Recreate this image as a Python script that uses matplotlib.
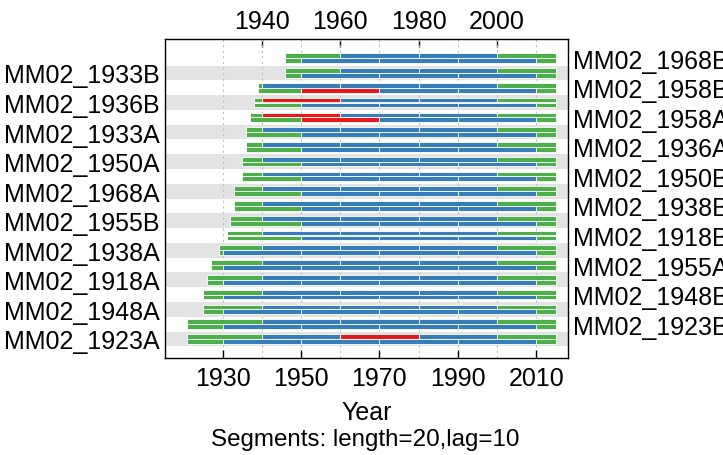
import matplotlib
matplotlib.use("Agg")
import matplotlib.pyplot as plt

plt.rcParams['font.family'] = ['Liberation Sans', 'DejaVu Sans']

# ---- data (bottom to top) ----
series = ["MM02_1923A", "MM02_1923B", "MM02_1948A", "MM02_1948B", "MM02_1918A",
          "MM02_1955A", "MM02_1938A", "MM02_1918B", "MM02_1955B", "MM02_1938B",
          "MM02_1968A", "MM02_1950B", "MM02_1950A", "MM02_1936A", "MM02_1933A",
          "MM02_1958A", "MM02_1936B", "MM02_1958B", "MM02_1933B", "MM02_1968B"]
first_year = [1921, 1921, 1925, 1925, 1926, 1927, 1929, 1931, 1932, 1933,
              1933, 1935, 1935, 1936, 1936, 1937, 1938, 1939, 1946, 1946]
last_year = [2015, 2015, 2015, 2015, 2015, 2015, 2015, 2015, 2015, 2015,
             2015, 2015, 2015, 2015, 2015, 2015, 2015, 2015, 2015, 2015]
seg_length = 20
seg_lag = 10
upper_bin_starts = [1920, 1940, 1960, 1980, 2000]
lower_bin_starts = [1910, 1930, 1950, 1970, 1990, 2010]
flag_series = ["MM02_1923A", "MM02_1936B", "MM02_1958A", "MM02_1958A", "MM02_1958B"]
flag_bin = [1960, 1940, 1940, 1950, 1950]
grid_years = [1930, 1940, 1950, 1960, 1970, 1980, 1990, 2000, 2010]
bottom_ticks = [1930, 1950, 1970, 1990, 2010]
top_ticks = [1940, 1960, 1980, 2000]

RED, BLUE, GREEN = "#E41A1C", "#377EB8", "#4DAF4A"
FS = 18

fig = plt.figure(figsize=(7.23, 4.56), dpi=100)
ax = fig.add_axes([165 / 723, 1 - 359 / 456, 403 / 723, 319 / 456])
ax.set_xlim(1915.3, 2018.1)
ax.set_ylim(-0.29, 21.3)

n = len(series)
for i in range(1, n + 1, 2):
    ax.axhspan(i - 0.5, i + 0.5, color="#E3E3E3", lw=0, zorder=0)
for g in grid_years:
    ax.axvline(g, color="#BEBEBE", ls=(0, (2, 3)), lw=0.8, zorder=1)

flags = set(zip(flag_series, flag_bin))
for idx, name in enumerate(series):
    yc = idx + 1
    s, e = first_year[idx], last_year[idx]
    for bins, dy in ((upper_bin_starts, 0.165), (lower_bin_starts, -0.165)):
        for b in bins:
            be = b + seg_length
            lo, hi = max(b, s), min(be, e)
            if hi <= lo:
                continue
            if not (s <= b and e >= be):
                col = GREEN
            elif (name, b) in flags:
                col = RED
            else:
                col = BLUE
            ax.barh(yc + dy, hi - lo, left=lo, height=0.32, color=col,
                    edgecolor="white", linewidth=0.6, zorder=3)

ax.set_xticks(bottom_ticks)
ax.tick_params(axis="x", direction="in", length=5.5, width=1, labelsize=FS, pad=6)
top = ax.secondary_xaxis("top")
top.set_xticks(top_ticks)
top.tick_params(direction="in", length=5.5, width=1, labelsize=FS, pad=4)

odd = list(range(0, n, 2))
even = list(range(1, n, 2))
ax.set_yticks([i + 1 for i in odd])
ax.set_yticklabels([series[i] for i in odd])
ax.tick_params(axis="y", length=0, labelsize=FS, pad=3.6)
right = ax.secondary_yaxis("right")
right.set_yticks([i + 1 for i in even])
right.set_yticklabels([series[i] for i in even])
right.tick_params(length=0, labelsize=FS, pad=3.6)

for sp in ax.spines.values():
    sp.set_linewidth(1)
for sp in list(top.spines.values()) + list(right.spines.values()):
    sp.set_visible(False)

fig.text(366.5 / 723, 1 - 420 / 456, "Year", ha="center", va="baseline", fontsize=FS)
fig.text(365 / 723, 1 - 446 / 456, "Segments: length=%d,lag=%d" % (seg_length, seg_lag),
         ha="center", va="baseline", fontsize=17.4)

fig.savefig("out.png", dpi=100)
